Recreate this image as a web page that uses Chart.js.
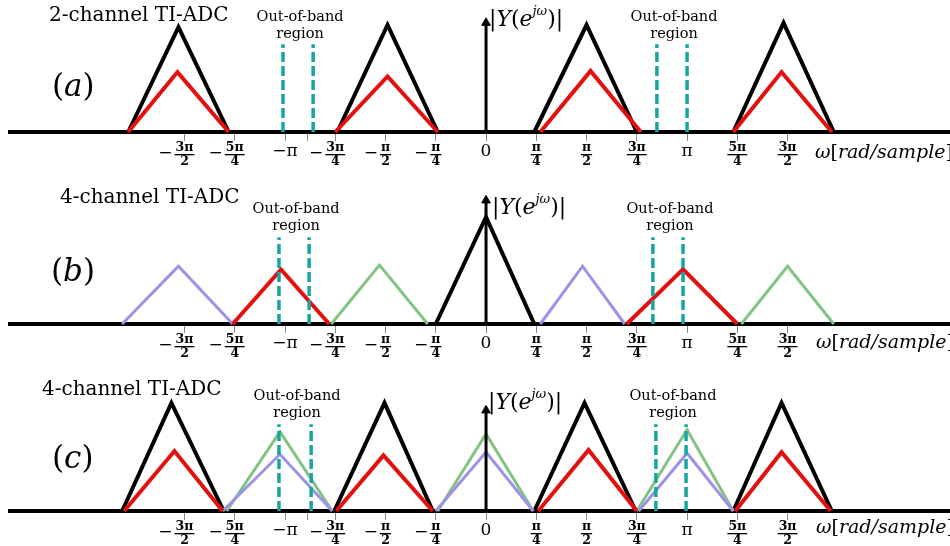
<!DOCTYPE html>
<html>
<head>
<meta charset="utf-8">
<script src="https://cdn.jsdelivr.net/npm/chart.js@4.4.0/dist/chart.umd.min.js"></script>
<style>
  body { margin: 0; background: #fff; width: 950px; height: 546px; overflow: hidden; position: relative; }
  .panel { position: absolute; left: 0; width: 950px; height: 182px; }
</style>
</head>
<body>
<div class="panel" style="top:0px"><canvas id="chartA" width="950" height="182"></canvas></div>
<div class="panel" style="top:182px"><canvas id="chartB" width="950" height="182"></canvas></div>
<div class="panel" style="top:364px"><canvas id="chartC" width="950" height="182"></canvas></div>
<script>
// frequency axis in units of pi
var X_MIN = -2.368, X_MAX = 2.308;
var tickValues = [-1.5, -1.25, -1, -0.75, -0.5, -0.25, 0, 0.25, 0.5, 0.75, 1, 1.25, 1.5];
var tickLabels = ['-3π/2', '-5π/4', '-π', '-3π/4', '-π/2', '-π/4', '0', 'π/4', 'π/2', '3π/4', 'π', '5π/4', '3π/2'];
var extraTick = -0.89;

// (a) 2-channel TI-ADC
var aBlack = [[-1.78, -1.53, -1.28], [-0.74, -0.49, -0.24], [0.24, 0.50, 0.75], [1.23, 1.48, 1.73]];
var aBlackPeak = [0.98, 1.0, 1.0, 1.02];
var aRed = [[-1.78, -1.535, -1.28], [-0.75, -0.49, -0.24], [0.27, 0.52, 0.77], [1.23, 1.47, 1.72]];
var aRedPeak = [0.56, 0.52, 0.57, 0.56];
var aDash = [-1.01, -0.86, 0.85, 1.0];
var aDashTop = 0.82;
var aArrow = 1.02;

// (b) 4-channel TI-ADC
var bBlack = [[-0.25, 0, 0.24]];
var bBlackPeak = [1.0];
var bPurple = [[-1.81, -1.53, -1.26], [0.27, 0.48, 0.69]];
var bPurplePeak = [0.54, 0.54];
var bRed = [[-1.26, -1.02, -0.78], [0.70, 0.98, 1.25]];
var bRedPeak = [0.51, 0.51];
var bGreen = [[-0.77, -0.53, -0.29], [1.27, 1.50, 1.73]];
var bGreenPeak = [0.55, 0.54];
var bDash = [-1.03, -0.88, 0.83, 0.98];
var bDashTop = 0.81;
var bArrow = 1.155;

// (c) 4-channel TI-ADC
var cBlack = [[-1.81, -1.565, -1.305], [-0.755, -0.505, -0.265], [0.24, 0.49, 0.745], [1.23, 1.47, 1.72]];
var cBlackPeak = [1.01, 1.01, 1.01, 1.01];
var cRed = [[-1.80, -1.55, -1.31], [-0.745, -0.51, -0.265], [0.26, 0.51, 0.75], [1.24, 1.47, 1.715]];
var cRedPeak = [0.56, 0.52, 0.57, 0.55];
var cGreen = [[-1.29, -1.025, -0.765], [-0.24, 0, 0.235], [0.75, 1.0, 1.23]];
var cGreenPeak = [0.74, 0.72, 0.76];
var cPurple = [[-1.31, -1.025, -0.765], [-0.25, 0, 0.235], [0.76, 1.0, 1.23]];
var cPurplePeak = [0.53, 0.55, 0.54];
var cDash = [-1.03, -0.87, 0.845, 0.995];
var cDashTop = 0.81;
var cArrow = 0.94;

var BLACK = '#000000', RED = '#e3100f', PURPLE = '#9b93e8', GREEN = '#85c285', TEAL = '#17a5a0';
var SERIF = '"DejaVu Serif", serif';

function triSets(list, peaks, color, width, order) {
  return list.map(function (xs, i) {
    return {
      data: [{x: xs[0], y: 0}, {x: xs[1], y: peaks[i]}, {x: xs[2], y: 0}],
      borderColor: color, borderWidth: width, order: order, clip: false,
      pointRadius: 0, tension: 0, borderJoinStyle: 'miter'
    };
  });
}

function dashSets(xs, top) {
  return xs.map(function (x) {
    return {
      data: [{x: x, y: 0}, {x: x, y: top}],
      borderColor: TEAL, borderWidth: 3.5, borderDash: [10, 4], order: 0, clip: false,
      pointRadius: 0
    };
  });
}

function arrowSet(top) {
  return {
    data: [{x: 0, y: 0}, {x: 0, y: top}],
    borderColor: BLACK, borderWidth: 3, order: 0, clip: false,
    pointStyle: 'triangle', pointRadius: [0, 5], pointBackgroundColor: BLACK,
    pointBorderColor: BLACK, pointBorderWidth: 1
  };
}

function drawRuns(ctx, runs, x, y) {
  ctx.textAlign = 'left';
  runs.forEach(function (r) {
    ctx.font = r[1];
    ctx.fillText(r[0], x, y + (r[2] || 0));
    x += ctx.measureText(r[0]).width;
  });
}

function drawTickLabel(ctx, label, x, axisY) {
  var neg = label.charAt(0) === '-';
  var body = neg ? label.slice(1) : label;
  var parts = body.split('/');
  if (parts.length === 2) {
    ctx.font = 'bold 12.5px ' + SERIF;
    var w = Math.max(ctx.measureText(parts[0]).width, ctx.measureText(parts[1]).width);
    ctx.textAlign = 'center';
    ctx.fillText(parts[0], x, axisY + 16);
    ctx.fillText(parts[1], x, axisY + 30);
    ctx.fillRect(x - w / 2 - 1, axisY + 22, w + 2, 1.3);
    if (neg) {
      ctx.font = '17px ' + SERIF;
      ctx.textAlign = 'right';
      ctx.fillText('−', x - w / 2 - 3, axisY + 22);
    }
  } else {
    ctx.font = '17px ' + SERIF;
    ctx.textAlign = 'center';
    ctx.fillText(neg ? '−' + body : body, x, axisY + 20);
  }
}

function textPlugin(p) {
  return {
    id: 'text' + p.tag,
    afterDraw: function (chart) {
      var ctx = chart.ctx, xs = chart.scales.x, off = p.top;
      var axisY = chart.chartArea.bottom;
      ctx.save();
      ctx.fillStyle = '#000';
      ctx.textBaseline = 'middle';
      // title
      ctx.font = '20px ' + SERIF;
      ctx.textAlign = 'left';
      ctx.fillText(p.title, p.titleX, p.titleY - off);
      // (a) / (b) / (c)
      drawRuns(ctx, [['(', '31px ' + SERIF], [p.tag, 'italic 31px ' + SERIF], [')', '31px ' + SERIF]], p.tagX, p.tagY - off);
      // out-of-band labels centred over each dashed pair
      ctx.font = '14.5px ' + SERIF;
      ctx.textAlign = 'center';
      for (var i = 0; i < p.dash.length; i += 2) {
        var cx = (xs.getPixelForValue(p.dash[i]) + xs.getPixelForValue(p.dash[i + 1])) / 2 + 2;
        ctx.fillText('Out-of-band', cx, p.oobY - off);
        ctx.fillText('region', cx, p.oobY + 17 - off);
      }
      // |Y(e^{jw})|
      drawRuns(ctx, [
        ['|', '22px ' + SERIF], ['Y', 'italic 22px ' + SERIF], ['(', '22px ' + SERIF],
        ['e', 'italic 22px ' + SERIF], ['jω', 'italic 13px ' + SERIF, -8], [')|', '22px ' + SERIF]
      ], p.yLabX, p.yLabY - off);
      // w[rad/sample]
      drawRuns(ctx, [
        ['ω', 'italic 19px ' + SERIF], ['[', '19px ' + SERIF],
        ['rad/sample', 'italic 19px ' + SERIF], [']', '19px ' + SERIF]
      ], p.wLabX, p.wLabY - off);
      // tick labels
      tickValues.forEach(function (v, i) {
        drawTickLabel(ctx, tickLabels[i], xs.getPixelForValue(v), axisY);
      });
      ctx.restore();
    }
  };
}

function makeChart(id, p, datasets) {
  return new Chart(document.getElementById(id), {
    type: 'line',
    data: {datasets: datasets},
    options: {
      responsive: false,
      animation: false,
      events: [],
      layout: {autoPadding: false, padding: {left: 10, right: 0, top: p.padTop, bottom: p.padBottom}},
      plugins: {legend: {display: false}, tooltip: {enabled: false}},
      scales: {
        x: {
          type: 'linear', min: X_MIN, max: X_MAX,
          afterBuildTicks: function (scale) {
            var vals = p.extra ? tickValues.concat([extraTick]) : tickValues;
            scale.ticks = vals.map(function (v) { return {value: v}; });
          },
          afterFit: function (scale) { scale.height = 0; },
          ticks: {display: false},
          grid: {drawOnChartArea: false, drawTicks: true, tickLength: 9, color: '#8a8a8a', lineWidth: 1},
          border: {display: true, color: '#000', width: 4}
        },
        y: {display: false, min: 0, max: 1.2}
      }
    },
    plugins: [textPlugin(p)]
  });
}

var panelA = {tag: 'a', top: 0, padTop: 3.6, padBottom: 50, extra: true, dash: aDash,
  title: '2-channel TI-ADC', titleX: 49, titleY: 16, tagX: 52, tagY: 88, oobY: 17,
  yLabX: 489, yLabY: 20, wLabX: 815, wLabY: 153};
var panelB = {tag: 'b', top: 182, padTop: 13.6, padBottom: 40, extra: false, dash: bDash,
  title: '4-channel TI-ADC', titleX: 60, titleY: 198, tagX: 51, tagY: 273, oobY: 209,
  yLabX: 492, yLabY: 208, wLabX: 816, wLabY: 343};
var panelC = {tag: 'c', top: 364, padTop: 18.6, padBottom: 35, extra: true, dash: cDash,
  title: '4-channel TI-ADC', titleX: 42, titleY: 390, tagX: 52, tagY: 460, oobY: 396,
  yLabX: 488, yLabY: 403, wLabX: 816, wLabY: 528};

makeChart('chartA', panelA, [].concat(
  dashSets(aDash, aDashTop), [arrowSet(aArrow)],
  triSets(aRed, aRedPeak, RED, 4, 1),
  triSets(aBlack, aBlackPeak, BLACK, 4, 2)
));

makeChart('chartB', panelB, [].concat(
  dashSets(bDash, bDashTop), [arrowSet(bArrow)],
  triSets(bRed, bRedPeak, RED, 4, 1),
  triSets(bPurple, bPurplePeak, PURPLE, 3, 2),
  triSets(bGreen, bGreenPeak, GREEN, 3, 2),
  triSets(bBlack, bBlackPeak, BLACK, 4, 2)
));

makeChart('chartC', panelC, [].concat(
  dashSets(cDash, cDashTop), [arrowSet(cArrow)],
  triSets(cRed, cRedPeak, RED, 4, 1),
  triSets(cPurple, cPurplePeak, PURPLE, 3, 2),
  triSets(cGreen, cGreenPeak, GREEN, 3, 3),
  triSets(cBlack, cBlackPeak, BLACK, 4, 4)
));
</script>
</body>
</html>
